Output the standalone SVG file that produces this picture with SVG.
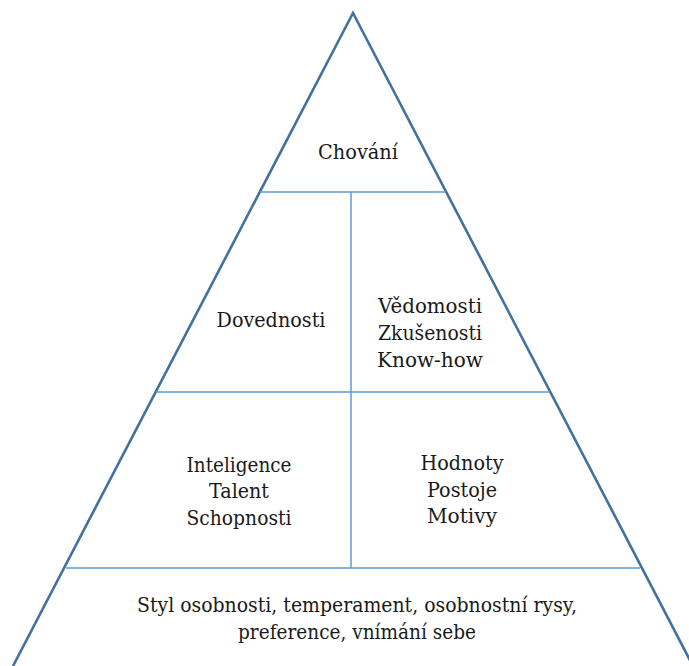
<svg xmlns="http://www.w3.org/2000/svg" width="689" height="666" viewBox="0 0 689 666">
  <style>
    .outline { fill: none; stroke: #41719c; stroke-width: 2.6; stroke-linejoin: miter; }
    .divider { fill: none; stroke: #5b9bd5; stroke-width: 1.5; }
    .lbl { font-family: 'DejaVu Serif', serif; font-size: 21px; fill: #1a1a1a; text-anchor: middle; }
  </style>
  <rect x="0" y="0" width="689" height="666" fill="#ffffff"/>

  <!-- pyramid outline and internal dividers -->
  <g id="connectors">
    <polyline class="outline" points="13,666 353,13 693,666"/>
    <line class="divider" x1="260" y1="192" x2="446" y2="192"/>
    <line class="divider" x1="156" y1="392" x2="550" y2="392"/>
    <line class="divider" x1="66" y1="568" x2="640" y2="568"/>
    <line class="divider" x1="351" y1="192" x2="351" y2="568"/>
  </g>

  <!-- labels, narrowed to a Times-like set width -->
  <g id="chovani">
    <text class="lbl" x="358" y="159" textLength="80" lengthAdjust="spacingAndGlyphs">Chování</text>
  </g>

  <g id="dovednosti">
    <text class="lbl" x="271" y="327" textLength="109" lengthAdjust="spacingAndGlyphs">Dovednosti</text>
  </g>

  <g id="vedomosti">
    <text class="lbl" x="430" y="313" textLength="104" lengthAdjust="spacingAndGlyphs">Vědomosti</text>
    <text class="lbl" x="430" y="340" textLength="104" lengthAdjust="spacingAndGlyphs">Zkušenosti</text>
    <text class="lbl" x="430" y="367" textLength="106" lengthAdjust="spacingAndGlyphs">Know-how</text>
  </g>

  <g id="inteligence">
    <text class="lbl" x="239" y="472" textLength="105" lengthAdjust="spacingAndGlyphs">Inteligence</text>
    <text class="lbl" x="239" y="498" textLength="60" lengthAdjust="spacingAndGlyphs">Talent</text>
    <text class="lbl" x="239" y="525" textLength="105" lengthAdjust="spacingAndGlyphs">Schopnosti</text>
  </g>

  <g id="hodnoty">
    <text class="lbl" x="462" y="470" textLength="83" lengthAdjust="spacingAndGlyphs">Hodnoty</text>
    <text class="lbl" x="462" y="497" textLength="70" lengthAdjust="spacingAndGlyphs">Postoje</text>
    <text class="lbl" x="462" y="523" textLength="70" lengthAdjust="spacingAndGlyphs">Motivy</text>
  </g>

  <g id="osobnost">
    <text class="lbl" x="357" y="612" textLength="440" lengthAdjust="spacingAndGlyphs">Styl osobnosti, temperament, osobnostní rysy,</text>
    <text class="lbl" x="357" y="639" textLength="238" lengthAdjust="spacingAndGlyphs">preference, vnímání sebe</text>
  </g>
</svg>
